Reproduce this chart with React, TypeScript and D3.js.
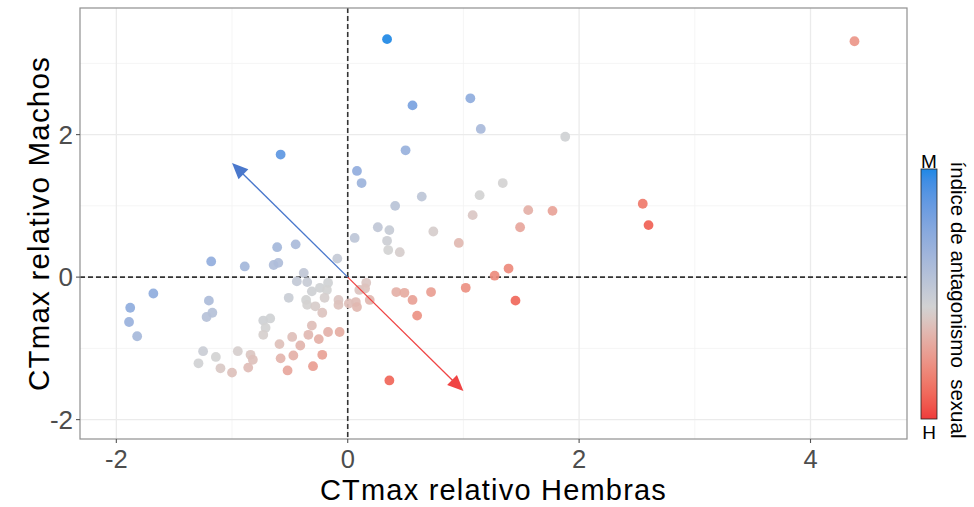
import React from "react";
import * as d3 from "d3";

// Relative CTmax of females (x) and males (y) per line
const hembras = [
  0.34, 4.38, 0.56, 1.06, 1.15, 1.88, -0.58, 0.50, 0.08, 0.12,
  0.64, 1.14, 1.34, 0.41, 1.08, 1.56, 1.77, 2.55, 2.60, 0.74,
  1.49, 0.96, 1.27, 1.39, 0.06, 0.26, 0.36, 0.34, 0.35, 0.45,
  -0.09,
  0.16, 0.15, 0.10, 0.19, 0.07, 0.01, 0.08, 0.42, 0.49, 0.72,
  1.02, 0.56, 0.60, 1.45, 0.36, -0.07,
  -1.18, -0.89, -0.61, -0.45, -0.64, -0.60, -0.38, -0.44, -0.35, -0.31,
  -0.24, -0.17, -0.18, -0.20, -0.36, -0.35, -0.28, -0.51, -0.22, -0.08,
  -0.08, -1.20, -1.17, -1.22, -0.73, -0.67, -0.71, -0.73, -0.31, -0.34,
  -0.25, -0.17, -0.48, -0.41, -0.59, -0.47, -0.58, -0.52, -0.30, -0.22,
  -0.84, -0.82, -0.86, -1.00, -1.10, -0.95, -1.14, -1.25, -1.29, -1.88,
  -1.89, -1.82, -1.68,
];
const machos = [
  3.34, 3.31, 2.41, 2.51, 2.08, 1.97, 1.72, 1.78, 1.49, 1.32,
  1.13, 1.15, 1.32, 1.00, 0.87, 0.94, 0.93, 1.03, 0.73, 0.64,
  0.70, 0.48, 0.02, 0.12, 0.55, 0.70, 0.66, 0.51, 0.38, 0.35,
  0.26,
  -0.08, -0.16, -0.18, -0.32, -0.35, -0.37, -0.42, -0.21, -0.22, -0.21,
  -0.15, -0.32, -0.54, -0.33, -1.45, -0.77,
  0.22, 0.15, 0.42, 0.46, 0.17, 0.20, 0.06, -0.06, -0.07, -0.20,
  -0.15, -0.08, -0.18, -0.29, -0.32, -0.39, -0.41, -0.29, -0.50, -0.32,
  -0.39, -0.33, -0.50, -0.56, -0.61, -0.58, -0.71, -0.81, -0.68, -0.81,
  -0.87, -0.77, -0.84, -0.96, -0.94, -1.10, -1.14, -1.31, -1.25, -1.09,
  -1.09, -1.16, -1.27, -1.34, -1.28, -1.04, -1.12, -1.04, -1.21, -0.43,
  -0.63, -0.83, -0.23,
];

// Direction vectors: male-favouring (M) and female-favouring (H)
const flechaM = [-1.0, 1.6];
const flechaH = [1.0, -1.6];

const xTicks = [-2, 0, 2, 4];
const yTicks = [-2, 0, 2];
const xMinor = [-1, 1, 3];
const yMinor = [-1, 1, 3];

const xDomain = [-2.314, 4.834];
const yDomain = [-2.272, 3.777];
const indiceDomain = [-2.3, 0, 2.9];
const indiceColores = ["#F03B3B", "#D3D3D3", "#1E88E5"];
const leyendaTitulo = "índice de antagonismo\u00a0 sexual";

const W = 974;
const H = 507;
const panel = { left: 80, right: 907, top: 8, bottom: 439 };
const FONT = "'Liberation Sans', Arial, Helvetica, sans-serif";

export default function App() {
  const x = d3.scaleLinear().domain(xDomain).range([panel.left, panel.right]);
  const y = d3.scaleLinear().domain(yDomain).range([panel.bottom, panel.top]);
  const color = d3
    .scaleLinear<string>()
    .domain(indiceDomain)
    .range(indiceColores)
    .interpolate(d3.interpolateLab)
    .clamp(true);

  // sexual antagonism index: male minus female relative CTmax
  const puntos = hembras.map((h, i) => ({ h, m: machos[i], idx: machos[i] - h }));

  const legend = { x: 921, w: 16, top: 169, bottom: 419 };
  // gradient stops from top (M, high index) to bottom (H, low index)
  const stops = d3.range(0, 21).map((i) => {
    const v = indiceDomain[2] - ((indiceDomain[2] - indiceDomain[0]) * i) / 20;
    return { off: i / 20, c: color(v) };
  });

  const arrow = (v: number[], col: string, id: string) => {
    const x0 = x(0), y0 = y(0), x1 = x(v[0]), y1 = y(v[1]);
    const ang = Math.atan2(y1 - y0, x1 - x0);
    const len = 16, half = 7;
    const bx = x1 - len * Math.cos(ang), by = y1 - len * Math.sin(ang);
    const p1 = [bx + half * Math.sin(ang), by - half * Math.cos(ang)];
    const p2 = [bx - half * Math.sin(ang), by + half * Math.cos(ang)];
    return (
      <g key={id}>
        <line x1={x0} y1={y0} x2={bx + 2 * Math.cos(ang)} y2={by + 2 * Math.sin(ang)} stroke={col} strokeWidth={1.3} />
        <polygon points={`${x1},${y1} ${p1[0]},${p1[1]} ${p2[0]},${p2[1]}`} fill={col} />
      </g>
    );
  };

  return (
    <svg
      width={W}
      height={H}
      style={{ position: "absolute", left: 0, top: 0, background: "#fff" }}
      fontFamily={FONT}
    >
      <defs>
        <linearGradient id="lg" x1="0" y1="0" x2="0" y2="1">
          {stops.map((s, i) => (
            <stop key={i} offset={s.off} stopColor={s.c} />
          ))}
        </linearGradient>
        <clipPath id="clip">
          <rect x={panel.left} y={panel.top} width={panel.right - panel.left} height={panel.bottom - panel.top} />
        </clipPath>
      </defs>
      <rect x={0} y={0} width={W} height={H} fill="#fff" />

      {/* grid */}
      <g>
        {xMinor.map((t) => (
          <line key={"xm" + t} x1={x(t)} x2={x(t)} y1={panel.top} y2={panel.bottom} stroke="#f2f2f2" strokeWidth={0.8} />
        ))}
        {yMinor.map((t) => (
          <line key={"ym" + t} y1={y(t)} y2={y(t)} x1={panel.left} x2={panel.right} stroke="#f2f2f2" strokeWidth={0.8} />
        ))}
        {xTicks.map((t) => (
          <line key={"xg" + t} x1={x(t)} x2={x(t)} y1={panel.top} y2={panel.bottom} stroke="#ebebeb" strokeWidth={1.3} />
        ))}
        {yTicks.map((t) => (
          <line key={"yg" + t} y1={y(t)} y2={y(t)} x1={panel.left} x2={panel.right} stroke="#ebebeb" strokeWidth={1.3} />
        ))}
      </g>

      {/* reference lines */}
      <line x1={x(0)} x2={x(0)} y1={panel.top} y2={panel.bottom} stroke="#333" strokeWidth={1.6} strokeDasharray="5,3" />
      <line y1={y(0)} y2={y(0)} x1={panel.left} x2={panel.right} stroke="#333" strokeWidth={1.6} strokeDasharray="5,3" />

      {/* points */}
      <g clipPath="url(#clip)">
        {puntos.map((p, i) => (
          <circle key={i} cx={x(p.h)} cy={y(p.m)} r={4.9} fill={color(p.idx)} fillOpacity={0.92} />
        ))}
      </g>

      {/* direction arrows */}
      {arrow(flechaM, "#4A78CC", "m")}
      {arrow(flechaH, "#F04444", "h")}

      {/* panel border */}
      <rect
        x={panel.left}
        y={panel.top}
        width={panel.right - panel.left}
        height={panel.bottom - panel.top}
        fill="none"
        stroke="#8f8f8f"
        strokeWidth={1.2}
      />

      {/* x axis */}
      <g>
        {xTicks.map((t) => (
          <g key={"xt" + t}>
            <line x1={x(t)} x2={x(t)} y1={panel.bottom} y2={panel.bottom + 4} stroke="#555" strokeWidth={1.1} />
            <text x={x(t)} y={468} textAnchor="middle" fontSize={25.5} fill="#4d4d4d">
              {t < 0 ? "-" + Math.abs(t) : t}
            </text>
          </g>
        ))}
        <text
          x={(panel.left + panel.right) / 2}
          y={500}
          textAnchor="middle"
          fontSize={29}
          letterSpacing={1.2}
          fill="#000"
        >
          CTmax relativo Hembras
        </text>
      </g>

      {/* y axis */}
      <g>
        {yTicks.map((t) => (
          <g key={"yt" + t}>
            <line x1={panel.left - 4} x2={panel.left} y1={y(t)} y2={y(t)} stroke="#555" strokeWidth={1.1} />
            <text x={73} y={y(t)} dy="0.36em" textAnchor="end" fontSize={26} fill="#4d4d4d">
              {t < 0 ? "-" + Math.abs(t) : t}
            </text>
          </g>
        ))}
        <text
          transform={`translate(49,${(panel.top + panel.bottom) / 2}) rotate(-90)`}
          textAnchor="middle"
          fontSize={29.5}
          letterSpacing={1.2}
          fill="#000"
        >
          CTmax relativo Machos
        </text>
      </g>

      {/* colour legend */}
      <g>
        <rect x={legend.x} y={legend.top} width={legend.w} height={legend.bottom - legend.top} fill="url(#lg)" stroke="#222" strokeWidth={0.8} />
        <text x={legend.x + legend.w / 2} y={legend.top - 1} textAnchor="middle" fontSize={19} fill="#000">
          M
        </text>
        <text x={legend.x + legend.w / 2} y={legend.bottom + 20} textAnchor="middle" fontSize={19} fill="#000">
          H
        </text>
        <text
          transform={`translate(951,300) rotate(90)`}
          textAnchor="middle"
          fontSize={20.5}
          fill="#000"
        >
          {leyendaTitulo}
        </text>
      </g>
    </svg>
  );
}
